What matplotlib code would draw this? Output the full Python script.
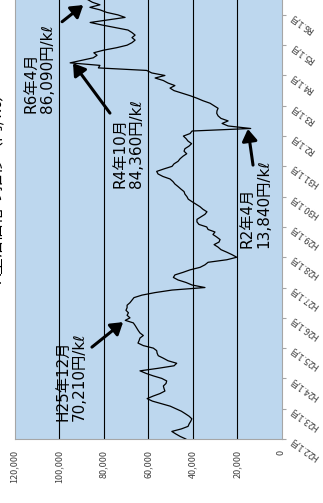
import numpy as np
import matplotlib.pyplot as plt

plt.rcParams['font.family'] = ['Noto Sans CJK JP', 'DejaVu Sans']

# monthly price (yen per kl), starting H22.1 (Jan 2010)
p2010 = [43000, 45500, 47500, 49300, 45000, 42000, 41500, 40800, 40300, 41500, 43200, 45000]
p2011 = [47500, 50000, 54000, 58000, 60400, 57700, 54600, 52400, 52800, 53100, 51900, 51600]
p2012 = [53800, 57600, 60900, 63600, 55500, 48300, 47100, 51000, 53100, 55400, 55900, 56100]
p2013 = [57600, 62100, 64500, 64000, 63600, 62100, 63600, 64400, 65100, 65800, 66600, 70210]
p2014 = [68100, 69400, 68800, 69900, 69400, 69400, 68100, 67200, 66300, 62700, 56800, 49200]
p2015 = [34400, 40200, 42900, 46500, 48600, 47900, 44300, 41100, 36600, 34400, 33000, 24600]
p2016 = [20100, 22200, 24600, 27200, 28500, 30300, 28100, 27600, 29100, 30800, 29900, 33000]
p2017 = [33600, 37100, 38000, 38000, 36200, 34400, 33500, 35300, 36600, 38400, 40200, 41900]
p2018 = [42500, 43400, 43800, 45200, 46500, 47900, 48800, 50100, 53300, 55500, 56100, 52800]
p2019 = [49200, 48300, 46500, 45600, 44300, 42600, 43800, 43400, 41600, 40400, 42000, 42900]
p2020 = [44100, 41100, 40200, 13840, 24000, 26700, 24000, 27200, 28500, 29100, 29000, 28500]
p2021 = [30300, 32100, 35300, 38000, 41100, 44700, 48300, 50100, 47900, 51000, 53100, 56800]
p2022 = [52400, 58300, 60600, 82300, 81600, 95000, 89700, 84600, 82900, 84360, 80100, 74100]
p2023 = [69400, 67200, 65800, 67200, 65800, 67200, 69000, 74800, 80700, 86000, 78000, 70300]
p2024 = [73500, 78600, 81600, 86090, 81600, 85000, 87000]

prices = (p2010 + p2011 + p2012 + p2013 + p2014 + p2015 + p2016 + p2017
          + p2018 + p2019 + p2020 + p2021 + p2022 + p2023 + p2024)
months = np.arange(len(prices))

year_labels = ['H22.1月', 'H23.1月', 'H24.1月', 'H25.1月', 'H26.1月', 'H27.1月',
               'H28.1月', 'H29.1月', 'H30.1月', 'H31.1月', 'R2.1月', 'R3.1月',
               'R4.1月', 'R5.1月', 'R6.1月']
year_ticks = np.arange(len(year_labels)) * 12
value_ticks = [0, 20000, 40000, 60000, 80000, 100000, 120000]

# callouts: text, arrow tip (month, price), arrow tail, text corner
notes = [
    ('R6年4月\n86,090円/kℓ', (171.9, 89100), (165.3, 98600), (129.1, 116200)),
    ('R4年10月\n84,360円/kℓ', (148.9, 93700), (129.1, 77100), (99.4, 76000)),
    ('R2年4月\n13,840円/kℓ', (122.8, 15100), (108.5, 12800), (75.6, 18700)),
    ('H25年12月\n70,210円/kℓ', (46.3, 71200), (36.4, 85200), (7.1, 101800)),
]

fig = plt.figure(figsize=(3.23, 5.03), dpi=100)
ax = fig.add_axes([14.5 / 323, 64 / 503, 267 / 323, 439 / 503])
ax.set_facecolor('#bdd7ee')

for v in value_ticks[1:-1]:
    ax.axvline(v, color='black', lw=0.8, zorder=1)

ax.plot(prices, months, color='black', lw=0.9, zorder=3)

ax.set_xlim(120000, 0)
ax.set_ylim(0, 173.9)

ax.set_xticks(value_ticks)
ax.set_xticklabels([f'{v:,}' for v in value_ticks], rotation=90, fontsize=6.5, color='#404040')
ax.tick_params(axis='x', length=0, pad=8)

ax.yaxis.tick_right()
ax.set_yticks(year_ticks)
ax.set_yticklabels(year_labels, rotation=145, rotation_mode='anchor',
                   ha='right', va='center', fontsize=6.5, color='#404040')
ax.tick_params(axis='y', length=3, pad=4, color='#a6a6a6')

for side in ['left', 'right', 'bottom']:
    ax.spines[side].set_color('#a6a6a6')
    ax.spines[side].set_linewidth(0.8)
ax.spines['top'].set_visible(False)

for text, tip, tail, corner in notes:
    ax.annotate('', xy=(tip[1], tip[0]), xytext=(tail[1], tail[0]),
                arrowprops=dict(arrowstyle='-|>,head_length=0.7,head_width=0.45',
                                color='black', lw=2.2, shrinkA=0, shrinkB=0),
                zorder=4)
    ax.text(corner[1], corner[0], text, rotation=90, rotation_mode='anchor',
            ha='left', va='top', fontsize=11, linespacing=1.15, zorder=2,
            family=['DejaVu Sans', 'Noto Sans CJK JP'])

# title is cut off by the left edge, as in the source image
fig.text(5 / 323, 1 - 183 / 503, 'A重油価格の推移（円/kℓ）', rotation=90,
         ha='right', va='center', fontsize=12)

fig.savefig('out.png', dpi=100)
